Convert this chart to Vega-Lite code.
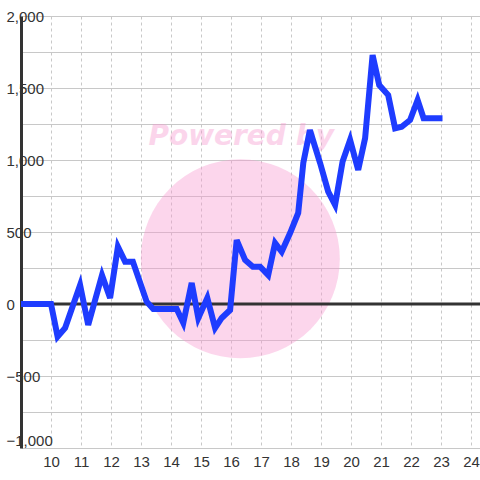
{
  "$schema": "https://vega.github.io/schema/vega-lite/v6.json",
  "autosize": "none",
  "width": 459,
  "height": 432,
  "padding": {"left": 21, "top": 16, "right": 0, "bottom": 32},
  "background": "white",
  "config": {
    "view": {"stroke": null},
    "axis": {"labelFont": "Liberation Sans", "labelFontSize": 15, "labelColor": "#333333", "title": null, "labelOverlap": false, "labelSeparation": 0},
    "axisX": {"labelOverlap": false},
    "axisQuantitative": {"labelOverlap": false}
  },
  "encoding": {
    "x": {
      "type": "quantitative",
      "scale": {"domain": [9, 24.3], "nice": false, "zero": false},
      "axis": {
        "values": [10, 11, 12, 13, 14, 15, 16, 17, 18, 19, 20, 21, 22, 23, 24],
        "labelExpr": "datum.value % 1 == 0 ? format(datum.value, 'd') : ''",
        "labelOverlap": false, "labelBound": false, "labelSeparation": 0,
        "domain": false, "ticks": false, "tickSize": 0, "labelPadding": 6, "labelFlush": false,
        "grid": true, "gridColor": "#c8c8c8", "gridDash": [3, 3], "gridWidth": 1,
        "gridOpacity": {"condition": {"test": "datum.value % 1 != 0", "value": 0}, "value": 1}
      }
    },
    "y": {
      "type": "quantitative",
      "scale": {"domain": [-1000, 2000], "nice": false, "zero": false},
      "axis": {
        "values": [-1000, -750, -500, -250, 0, 250, 500, 750, 1000, 1250, 1500, 1750, 2000],
        "labelOverlap": false,
        "labelExpr": "datum.value % 500 == 0 ? format(datum.value, ',') : ''",
        "labelBaseline": {"condition": {"test": "datum.value == -1000", "value": "bottom"}, "value": "middle"},
        "domain": true, "domainColor": "#333333", "domainWidth": 3,
        "ticks": false, "tickSize": 0, "labelPadding": 15, "labelAlign": "left", "labelFlush": false,
        "grid": true, "gridColor": "#c8c8c8", "gridWidth": 1
      }
    }
  },
  "layer": [
    {
      "data": {"values": [{"name": "watermark"}]},
      "mark": {"type": "point", "shape": "circle", "filled": true, "color": "#f798cf", "opacity": 0.4, "size": 39600, "strokeWidth": 0},
      "encoding": {
        "x": {"datum": 16.31},
        "y": {"datum": 314}
      }
    },
    {
      "data": {"values": [{"label": "Powered by"}]},
      "mark": {"type": "text", "font": "DejaVu Sans", "fontSize": 28, "fontWeight": "bold", "fontStyle": "italic", "color": "#f798cf", "opacity": 0.4, "align": "center", "baseline": "alphabetic"},
      "encoding": {
        "x": {"datum": 16.34},
        "y": {"datum": 1104},
        "text": {"field": "label"}
      }
    },
    {
      "data": {"values": [{"v": 0}]},
      "mark": {"type": "rule", "color": "#333333", "strokeWidth": 3},
      "encoding": {
        "x": null,
        "y": {"field": "v"}
      }
    },
    {
      "data": {"values": [
        {"t": 9.0, "v": 0},
        {"t": 10.0, "v": 0},
        {"t": 10.22, "v": -227},
        {"t": 10.47, "v": -167},
        {"t": 10.97, "v": 132},
        {"t": 11.24, "v": -146},
        {"t": 11.7, "v": 200},
        {"t": 11.97, "v": 42},
        {"t": 12.23, "v": 398},
        {"t": 12.47, "v": 294},
        {"t": 12.73, "v": 294},
        {"t": 13.19, "v": 16},
        {"t": 13.41, "v": -35},
        {"t": 14.19, "v": -35},
        {"t": 14.41, "v": -132},
        {"t": 14.69, "v": 146},
        {"t": 14.91, "v": -97},
        {"t": 15.21, "v": 42},
        {"t": 15.47, "v": -167},
        {"t": 15.69, "v": -97},
        {"t": 15.97, "v": -42},
        {"t": 16.19, "v": 444},
        {"t": 16.47, "v": 306},
        {"t": 16.73, "v": 259},
        {"t": 16.97, "v": 259},
        {"t": 17.24, "v": 201},
        {"t": 17.47, "v": 423},
        {"t": 17.69, "v": 363},
        {"t": 17.97, "v": 493},
        {"t": 18.24, "v": 632},
        {"t": 18.41, "v": 979},
        {"t": 18.63, "v": 1208},
        {"t": 18.97, "v": 979},
        {"t": 19.24, "v": 780},
        {"t": 19.47, "v": 688},
        {"t": 19.72, "v": 990},
        {"t": 19.97, "v": 1139},
        {"t": 20.24, "v": 931},
        {"t": 20.47, "v": 1151},
        {"t": 20.72, "v": 1729},
        {"t": 20.94, "v": 1521},
        {"t": 21.24, "v": 1451},
        {"t": 21.47, "v": 1220},
        {"t": 21.69, "v": 1231},
        {"t": 21.97, "v": 1278},
        {"t": 22.22, "v": 1417},
        {"t": 22.42, "v": 1290},
        {"t": 23.05, "v": 1290}
      ]},
      "mark": {"type": "line", "color": "#1e3cff", "strokeWidth": 6, "strokeJoin": "miter", "clip": true},
      "encoding": {
        "x": {"field": "t"},
        "y": {"field": "v"}
      }
    }
  ]
}
